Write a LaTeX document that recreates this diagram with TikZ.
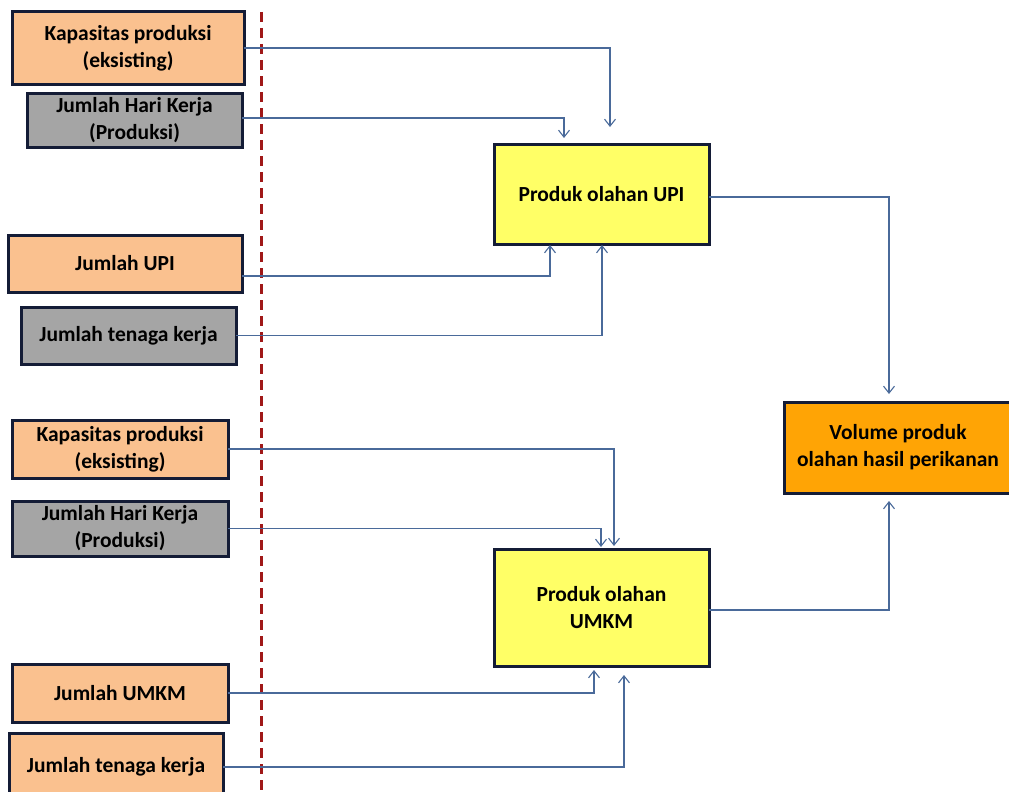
\documentclass[tikz,border=0pt]{standalone}
\usepackage{fontspec}
\setmainfont{Carlito}
\usetikzlibrary{arrows.meta}
\definecolor{peach}{HTML}{FAC18F}
\definecolor{ashgray}{HTML}{A5A5A5}
\definecolor{lemon}{HTML}{FFFF66}
\definecolor{amber}{HTML}{FFA405}
\definecolor{navyline}{HTML}{141C36}
\definecolor{linkblue}{HTML}{4A6A9A}
\definecolor{darkred}{HTML}{A01818}

\begin{document}
\begin{tikzpicture}[x=1pt,y=-1pt,
    box/.style={draw=navyline, line width=3pt, inner sep=0pt, outer sep=0pt, align=center,
      font=\fontsize{21.5}{27}\selectfont\bfseries},
    link/.style={draw=linkblue, line width=1.1pt, -{Straight Barb[length=7pt,width=11pt]}}]
          \useasboundingbox (0,0) rectangle (1009,792);
          \clip (0,0) rectangle (1009,792);
          % inputs UPI
          \node[box, fill=peach, minimum width=232pt, minimum height=72pt] (kapUPI) at (128,48) {Kapasitas produksi\\(eksisting)};
          \node[box, fill=ashgray, minimum width=215pt, minimum height=54pt] (hariUPI) at (134.5,120) {Jumlah Hari Kerja\\(Produksi)};
          \node[box, fill=peach, minimum width=234pt, minimum height=57pt] (jmlUPI) at (125,263.5) {Jumlah UPI};
          \node[box, fill=ashgray, minimum width=215pt, minimum height=57pt] (tkUPI) at (128.5,335.5) {Jumlah tenaga kerja};
          % inputs UMKM
          \node[box, fill=peach, minimum width=216pt, minimum height=58pt] (kapUMKM) at (120,449) {Kapasitas produksi\\(eksisting)};
          \node[box, fill=ashgray, minimum width=216pt, minimum height=55pt] (hariUMKM) at (120,528.5) {Jumlah Hari Kerja\\(Produksi)};
          \node[box, fill=peach, minimum width=216pt, minimum height=58pt] (jmlUMKM) at (120,693) {Jumlah UMKM};
          \node[box, fill=peach, minimum width=214pt, minimum height=68pt] (tkUMKM) at (116,767) {Jumlah tenaga kerja};
          % products
          \node[box, fill=lemon, minimum width=215pt, minimum height=100pt] (UPI) at (601.5,194) {Produk olahan UPI};
          \node[box, fill=lemon, minimum width=215pt, minimum height=117pt] (UMKM) at (601.5,607.5) {Produk olahan\\UMKM};
          \node[box, fill=amber, minimum width=228pt, minimum height=91pt] (vol) at (898,447.5) {Volume produk\\olahan hasil perikanan};
          % boundary
          \draw[darkred, line width=3pt, dash pattern=on 10pt off 6pt] (261,12) -- (261,792);
          % connectors
          \draw[link, shorten >=17pt] (kapUPI.east) -| ([xshift=8.5pt]UPI.north);
          \draw[link, shorten >=6pt] ([yshift=2pt]hariUPI.east) -| ([xshift=-37.5pt]UPI.north);
          \draw[link, shorten >=1pt] ([yshift=-12.5pt]jmlUPI.east) -| ([xshift=-51.5pt]UPI.south);
          \draw[link, shorten >=1pt] (tkUPI.east) -| ([xshift=0.5pt]UPI.south);
          \draw[link, shorten >=8pt] ([yshift=-3pt]UPI.east) -| ([xshift=-9pt]vol.north);
          \draw[link, shorten >=3pt] (kapUMKM.east) -| ([xshift=12.5pt]UMKM.north);
          \draw[link, shorten >=2pt] (hariUMKM.east) -| ([xshift=-0.5pt]UMKM.north);
          \draw[link, shorten >=4pt] (jmlUMKM.east) -| ([xshift=-7.5pt]UMKM.south);
          \draw[link, shorten >=9pt] (tkUMKM.east) -| ([xshift=22.5pt]UMKM.south);
          \draw[link, shorten >=8pt] ([yshift=-2.5pt]UMKM.east) -| ([xshift=-9pt]vol.south);
        \end{tikzpicture}
\end{document}
